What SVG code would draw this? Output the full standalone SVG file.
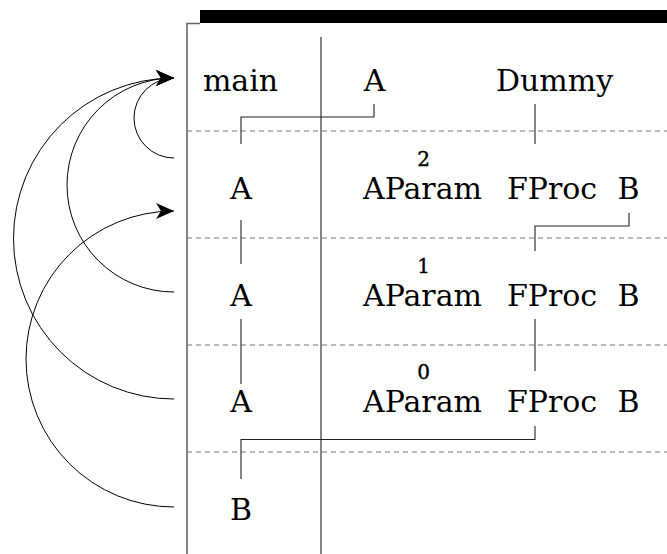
<svg xmlns="http://www.w3.org/2000/svg" width="667" height="554" viewBox="0 0 667 554">
<style>
.t{font-family:"DejaVu Serif","Liberation Serif",serif;font-size:30px;fill:#000}
.s{font-family:"DejaVu Serif","Liberation Serif",serif;font-size:20px;fill:#000;stroke:#000;stroke-width:0.4;text-anchor:middle}
.frame{stroke:#666;stroke-width:1.6;fill:none}
.dash{stroke:#777;stroke-width:1.2;stroke-dasharray:5 4;fill:none}
.link{stroke:#222;stroke-width:1.1;fill:none}
.arc{stroke:#000;stroke-width:1;fill:none;marker-end:url(#ah)}
</style>
<defs>
<marker id="ah" markerUnits="userSpaceOnUse" markerWidth="22" markerHeight="20" refX="18" refY="8" orient="auto" viewBox="0 0 22 16">
<path d="M18,8 L0,0 L5,8 L0,16 Z" fill="#000"/>
</marker>
</defs>
<g id="frame">
<rect x="200" y="10" width="467" height="13" fill="#000"/>
<path class="frame" d="M187,554 V23.5 H200"/>
<path class="frame" d="M321,37 V554"/>
<path class="dash" d="M187,131 H667"/>
<path class="dash" d="M187,238 H667"/>
<path class="dash" d="M187,345 H667"/>
<path class="dash" d="M187,452 H667"/>
</g>
<g id="connectors">
<path class="link" d="M374,104 V117 H241 V144"/>
<path class="link" d="M535,104 V144"/>
<path class="link" d="M241,220 V264"/>
<path class="link" d="M629,213 V226 H535 V251"/>
<path class="link" d="M241,319 V384"/>
<path class="link" d="M535,319 V371"/>
<path class="link" d="M535,426 V439.5 H241 V479"/>
<path class="arc" d="M174,158 A40,40 0 0 1 174,78"/>
<path class="arc" d="M174,292 A107,107 0 0 1 174,78"/>
<path class="arc" d="M174,399 A160.5,160.5 0 0 1 174,78"/>
<path class="arc" d="M174,507 A148,148 0 0 1 174,211"/>
</g>
<g id="header">
<text class="t" x="240.5" y="91" text-anchor="middle">main</text>
<text class="t" x="374.5" y="91" text-anchor="middle">A</text>
<text class="t" x="554.5" y="91" text-anchor="middle">Dummy</text>
</g>
<g id="frame2">
<text class="t" x="241" y="199" text-anchor="middle">A</text>
<text class="s" x="423.5" y="166">2</text>
<text class="t" x="422.5" y="199" text-anchor="middle">AParam</text>
<text class="t" x="552" y="199" text-anchor="middle">FProc</text>
<text class="t" x="628.5" y="199" text-anchor="middle">B</text>
</g>
<g id="frame1">
<text class="t" x="241" y="306" text-anchor="middle">A</text>
<text class="s" x="423.5" y="273">1</text>
<text class="t" x="422.5" y="306" text-anchor="middle">AParam</text>
<text class="t" x="552" y="306" text-anchor="middle">FProc</text>
<text class="t" x="628.5" y="306" text-anchor="middle">B</text>
</g>
<g id="frame0">
<text class="t" x="241" y="412" text-anchor="middle">A</text>
<text class="s" x="423.5" y="379">0</text>
<text class="t" x="422.5" y="412" text-anchor="middle">AParam</text>
<text class="t" x="552" y="412" text-anchor="middle">FProc</text>
<text class="t" x="628.5" y="412" text-anchor="middle">B</text>
</g>
<g id="frameB">
<text class="t" x="241" y="520" text-anchor="middle">B</text>
</g>
</svg>
